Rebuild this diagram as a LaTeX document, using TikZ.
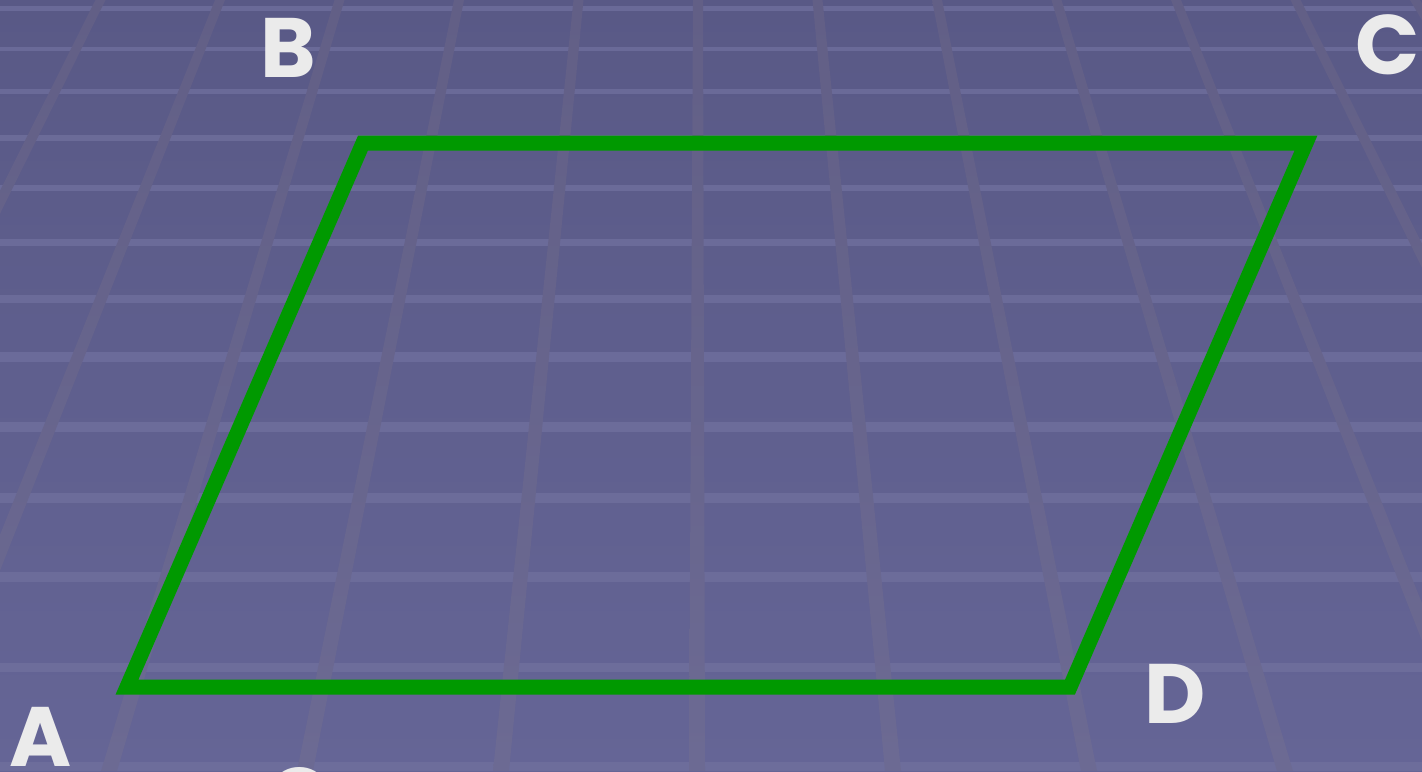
\documentclass[tikz,border=0pt]{standalone}
\usepackage{fontspec}
\newfontfamily\labelfont{Poppins}
\usepackage{tikz}
\usetikzlibrary{calc}
\definecolor{bgtop}{RGB}{89,89,134}
\definecolor{bgbot}{RGB}{101,101,150}
\definecolor{radtop}{RGB}{98,95,134}
\definecolor{radbot}{RGB}{108,106,147}
\definecolor{hortop}{RGB}{106,106,152}
\definecolor{horbot}{RGB}{109,109,155}
\definecolor{sidegreen}{RGB}{0,153,0}
\definecolor{labelwhite}{RGB}{235,235,235}

\begin{document}
\begin{tikzpicture}[x=0.02cm,y=-0.02cm,
    letter/.style={text=labelwhite, inner sep=0pt,
        font=\labelfont\bfseries\fontsize{48}{50}\selectfont},
    side/.style={draw=sidegreen, line width=0.3cm, line join=miter}]
    \useasboundingbox (0,0) rectangle (1422,771);
    \clip (0,0) rectangle (1422,771);
    \shade[top color=bgtop, bottom color=bgbot] (0,0) rectangle (1422,771);
    % floor grid, rows
    \foreach \y/\w in {8/5,49/4,91/5,138/6,188/6,242/7,299/8,357/10,427/10,498/10,577/10,667/9,766/9}{
        \pgfmathtruncatemacro{\p}{100-\y/7.71}
        \fill[hortop!\p!horbot] (0,\y-\w/2) rectangle (1422,\y+\w/2);
    }
    % floor grid, rays to the vanishing point
    \foreach \k in {-6,...,6}{
        \pgfmathsetmacro{\xt}{698+119.5*\k}
        \pgfmathsetmacro{\xb}{697+196*\k}
        \shade[top color=radtop, bottom color=radbot]
            (\xt-5,0) -- (\xt+5,0) -- (\xb+8,771) -- (\xb-8,771) -- cycle;
    }
    % parallelogram
    \coordinate (a) at (127,687);
    \coordinate (b) at (363,143);
    \coordinate (c) at (1306,143);
    \coordinate (d) at (1070,687);
    \draw[side] (a) -- (b) -- (c) -- (d) -- cycle;
    \node[letter] (labA) at (41,737) {A};
    \node[letter] (labB) at (288,48) {B};
    \node[letter] (labC) at (1388,45) {C};
    \node[letter] (labD) at (1175,694) {D};
    \node[letter] (labO) at (300,798) {O};
\end{tikzpicture}
\end{document}
